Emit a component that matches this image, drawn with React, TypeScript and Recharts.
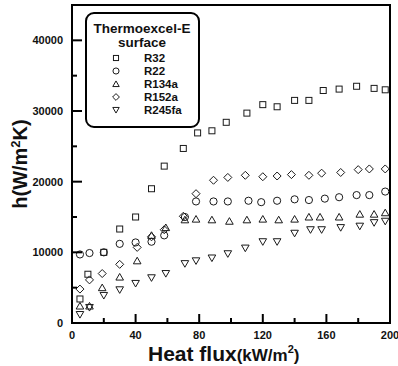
import React from "react";
import { ScatterChart, Scatter, XAxis, YAxis, ReferenceArea } from "recharts";

const r32Flux = [5, 10, 20, 30, 40, 50, 58, 70, 79, 88, 97, 110, 120, 129, 140, 149, 158, 168, 179, 190, 197];
const r32H = [3400, 6900, 10000, 13300, 15000, 19000, 22200, 24700, 26900, 27200, 28400, 29700, 30900, 30600, 31500, 31500, 32900, 33100, 33500, 33200, 33000];

const r22Flux = [5, 11, 20, 30, 40, 50, 58, 71, 78, 89, 98, 111, 119, 129, 140, 149, 159, 168, 179, 187, 197];
const r22H = [9700, 9900, 10000, 11200, 11400, 11500, 12400, 15000, 17200, 17200, 17200, 17300, 17100, 17300, 17500, 17400, 17600, 17800, 18100, 18100, 18600];

const r134aFlux = [5, 11, 19, 30, 41, 50, 59, 71, 78, 88, 99, 110, 120, 130, 140, 149, 156, 168, 181, 190, 197];
const r134aH = [2400, 2400, 5000, 6500, 8800, 12400, 13500, 14600, 14700, 14600, 14400, 14600, 14700, 14600, 14700, 15000, 15000, 15000, 15400, 15400, 15600];

const r152aFlux = [5, 11, 19, 30, 41, 50, 58, 70, 78, 89, 98, 109, 120, 129, 138, 149, 157, 169, 180, 187, 197];
const r152aH = [4800, 6100, 7000, 8300, 10700, 12200, 13200, 15100, 18300, 20200, 20600, 20900, 20700, 20800, 21000, 20900, 21200, 21300, 21700, 21800, 21800];

const r245faFlux = [5, 11, 20, 30, 40, 50, 59, 71, 78, 88, 98, 109, 120, 129, 140, 150, 157, 169, 181, 190, 197];
const r245faH = [1200, 2200, 3900, 4700, 5600, 6400, 7000, 8400, 8800, 9200, 9800, 10600, 11500, 11500, 12700, 13200, 13200, 13500, 13700, 14200, 14400];

const xTicks = [0, 20, 40, 60, 80, 100, 120, 140, 160, 180, 200];
const yTicks = [0, 5000, 10000, 15000, 20000, 25000, 30000, 35000, 40000, 45000];

const legendTitle = ["Thermoexcel-E", "surface"];

const toPoints = (xs: number[], ys: number[]) => xs.map((x, i) => ({ x, y: ys[i] }));

const series = [
  { name: "R32", shape: "square", data: toPoints(r32Flux, r32H) },
  { name: "R22", shape: "circle", data: toPoints(r22Flux, r22H) },
  { name: "R134a", shape: "up", data: toPoints(r134aFlux, r134aH) },
  { name: "R152a", shape: "diamond", data: toPoints(r152aFlux, r152aH) },
  { name: "R245fa", shape: "down", data: toPoints(r245faFlux, r245faH) },
];

const STROKE = "#1a1a1a";
const FONT = "'Liberation Sans', Arial, sans-serif";
const LEFT = 72;
const BOTTOM = 323;

function Marker({ kind, cx, cy, s = 1 }: { kind: string; cx: number; cy: number; s?: number }) {
  const common = { fill: "none", stroke: STROKE, strokeWidth: 1 };
  if (kind === "square") {
    const h = 3 * s;
    return <rect x={cx - h} y={cy - h} width={2 * h} height={2 * h} {...common} />;
  }
  if (kind === "circle") {
    return <circle cx={cx} cy={cy} r={3.6 * s} {...common} />;
  }
  if (kind === "up") {
    const w = 3.8 * s;
    return <path d={`M${cx},${cy - 3.6 * s}L${cx + w},${cy + 3 * s}L${cx - w},${cy + 3 * s}Z`} {...common} />;
  }
  if (kind === "down") {
    const w = 3.8 * s;
    return <path d={`M${cx},${cy + 3.6 * s}L${cx + w},${cy - 3 * s}L${cx - w},${cy - 3 * s}Z`} {...common} />;
  }
  const d = 4 * s;
  return <path d={`M${cx},${cy - d}L${cx + d},${cy}L${cx},${cy + d}L${cx - d},${cy}Z`} {...common} />;
}

const YTick = (props: any) => {
  const { y, payload } = props;
  const v = payload.value as number;
  const major = v % 10000 === 0;
  if (v === 45000) return null;
  return (
    <g>
      <line x1={LEFT} x2={LEFT + (major ? 10 : 5)} y1={y} y2={y} stroke="#000" strokeWidth={2} />
      {major && (
        <text x={63} y={y + 4} textAnchor="end" fontFamily={FONT} fontWeight="bold" fontSize={11} fill="#111">
          {v}
        </text>
      )}
    </g>
  );
};

const XTick = (props: any) => {
  const { x, payload } = props;
  const v = payload.value as number;
  const major = v % 40 === 0;
  return (
    <g>
      {v !== 0 && v !== 200 && (
        <line x1={x} x2={x} y1={BOTTOM} y2={BOTTOM - (major ? 9 : 5)} stroke="#000" strokeWidth={2} />
      )}
      {major && (
        <text x={x} y={BOTTOM + 16} textAnchor="middle" fontFamily={FONT} fontWeight="bold" fontSize={11} fill="#111">
          {v}
        </text>
      )}
    </g>
  );
};

export default function App() {
  return (
    <div style={{ position: "absolute", left: 0, top: 0, width: 398, height: 366, background: "#fff" }}>
      <ScatterChart width={398} height={366} margin={{ top: 5, right: 8, bottom: 0, left: 0 }}>
        <XAxis
          type="number"
          dataKey="x"
          domain={[0, 200]}
          ticks={xTicks}
          interval={0}
          height={43}
          tickLine={false}
          axisLine={false}
          tick={<XTick />}
        />
        <YAxis
          type="number"
          dataKey="y"
          domain={[0, 45000]}
          ticks={yTicks}
          interval={0}
          width={LEFT}
          tickLine={false}
          axisLine={false}
          tick={<YTick />}
        />
        <ReferenceArea x1={0} x2={200} y1={0} y2={45000} fill="none" stroke="#000" strokeWidth={2} ifOverflow="visible" />
        {series.map((s) => (
          <Scatter
            key={s.name}
            name={s.name}
            data={s.data}
            isAnimationActive={false}
            shape={(p: any) => <Marker kind={s.shape} cx={p.cx} cy={p.cy} />}
          />
        ))}
      </ScatterChart>
      <svg
        width={398}
        height={366}
        style={{ position: "absolute", left: 0, top: 0, pointerEvents: "none" }}
      >
        <rect x={86} y={13} width={113} height={114} rx={8} ry={8} fill="#fff" stroke="#000" strokeWidth={2} />
        <text x={142} y={33} textAnchor="middle" fontFamily={FONT} fontWeight="bold" fontSize={13.5} fill="#111">
          {legendTitle[0]}
        </text>
        <text x={142} y={47} textAnchor="middle" fontFamily={FONT} fontWeight="bold" fontSize={13.5} fill="#111">
          {legendTitle[1]}
        </text>
        {series.map((s, i) => {
          const cy = 58 + i * 13;
          return (
            <g key={s.name}>
              <Marker kind={s.shape} cx={116} cy={cy} s={0.85} />
              <text x={144} y={cy + 4} fontFamily={FONT} fontWeight="bold" fontSize={11.5} fill="#111">
                {s.name}
              </text>
            </g>
          );
        })}
        <text
          transform="translate(27,164) rotate(-90)"
          textAnchor="middle"
          fontFamily={FONT}
          fontWeight="bold"
          fontSize={20}
          fill="#111"
        >
          h(W/m<tspan dy={-7} fontSize={13}>2</tspan><tspan dy={7}>K)</tspan>
        </text>
        <text x={148} y={361} fontFamily={FONT} fontWeight="bold" fontSize={21} fill="#111">
          Heat flux<tspan fontSize={17}>(kW/m</tspan><tspan fontSize={11} dy={-8}>2</tspan><tspan fontSize={17} dy={8}>)</tspan>
        </text>
      </svg>
    </div>
  );
}
